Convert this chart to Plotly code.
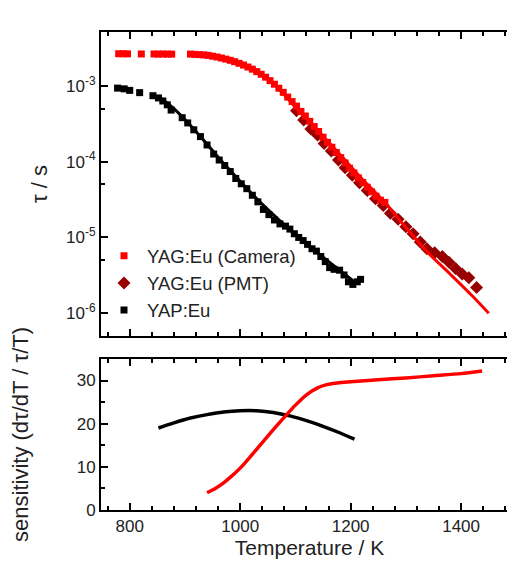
import plotly.graph_objects as go

# ---------------- data ----------------
# YAG:Eu (Camera) lifetime, s
cam_T = [780, 788, 796, 821, 844, 852, 860, 868, 876, 910, 918, 926, 934, 942, 950, 958,
         966, 974, 982, 990, 998, 1006, 1014, 1022, 1030, 1038, 1046, 1054, 1062, 1070,
         1078, 1086, 1094, 1102, 1110, 1118, 1126, 1134, 1142, 1150, 1158, 1166, 1174,
         1182, 1190, 1198, 1206, 1214, 1222, 1230, 1238, 1246, 1254, 1262]
cam_tau = [2.65e-3, 2.65e-3, 2.64e-3, 2.63e-3, 2.63e-3, 2.62e-3, 2.63e-3, 2.62e-3, 2.62e-3,
           2.62e-3, 2.60e-3, 2.58e-3, 2.56e-3, 2.52e-3, 2.46e-3, 2.40e-3, 2.33e-3, 2.25e-3,
           2.17e-3, 2.08e-3, 1.98e-3, 1.88e-3, 1.77e-3, 1.66e-3, 1.54e-3, 1.42e-3, 1.30e-3,
           1.17e-3, 1.05e-3, 9.3e-4, 8.2e-4, 7.1e-4, 6.2e-4, 5.4e-4, 4.6e-4, 4.0e-4, 3.4e-4,
           2.9e-4, 2.5e-4, 2.1e-4, 1.8e-4, 1.55e-4, 1.32e-4, 1.13e-4, 9.6e-5, 8.2e-5, 7.1e-5,
           6.1e-5, 5.3e-5, 4.6e-5, 4.0e-5, 3.5e-5, 3.1e-5, 2.9e-5]

# YAG:Eu (PMT) lifetime, s
pmt_T = [1102, 1115, 1128, 1140, 1152, 1165, 1178, 1190, 1203, 1216, 1230, 1245, 1259,
         1272, 1286, 1300, 1313, 1326, 1338, 1352, 1366, 1378, 1390, 1402, 1414, 1428]
pmt_tau = [4.68e-4, 3.55e-4, 2.69e-4, 2.24e-4, 1.74e-4, 1.38e-4, 1.05e-4, 8.3e-5, 6.6e-5,
           5.25e-5, 4.17e-5, 3.24e-5, 2.63e-5, 2.09e-5, 1.74e-5, 1.38e-5, 1.12e-5, 8.7e-6,
           7.1e-6, 6.3e-6, 5.6e-6, 4.7e-6, 3.9e-6, 3.3e-6, 2.95e-6, 2.19e-6]

# YAP:Eu lifetime, s
yap_T = [778, 790, 800, 818, 842, 852, 860, 868, 875, 895, 905, 916, 928, 940, 952, 962,
         972, 982, 992, 1002, 1012, 1022, 1032, 1042, 1052, 1062, 1072, 1082, 1090, 1098,
         1106, 1114, 1122, 1130, 1138, 1146, 1154, 1162, 1170, 1180, 1188, 1196, 1204,
         1212, 1218]
yap_tau = [9.33e-4, 9.12e-4, 8.71e-4, 8.13e-4, 7.41e-4, 6.92e-4, 6.31e-4, 5.62e-4, 4.79e-4,
           3.80e-4, 3.24e-4, 2.63e-4, 2.14e-4, 1.66e-4, 1.26e-4, 1.05e-4, 8.9e-5, 7.4e-5,
           6.0e-5, 5.1e-5, 4.4e-5, 3.6e-5, 2.95e-5, 2.34e-5, 2.0e-5, 1.70e-5, 1.51e-5,
           1.41e-5, 1.29e-5, 1.12e-5, 1.0e-5, 9.1e-6, 8.1e-6, 7.1e-6, 6.6e-6, 5.6e-6, 4.8e-6,
           4.0e-6, 3.8e-6, 3.7e-6, 3.2e-6, 2.6e-6, 2.4e-6, 2.6e-6, 2.8e-6]

# fitted curves
yag_fit_T = [940, 980, 1020, 1050, 1080, 1100, 1140, 1180, 1220, 1260, 1300, 1340, 1380, 1420, 1450]
yag_fit_tau = [2.5e-3, 2.3e-3, 1.74e-3, 1.26e-3, 7.6e-4, 5.2e-4, 2.6e-4, 1.26e-4, 6.0e-5,
               3.0e-5, 1.35e-5, 6.3e-6, 3.3e-6, 1.7e-6, 1.0e-6]
yap_fit_T = [852, 880, 910, 940, 970, 1000, 1030, 1060, 1090, 1120, 1150, 1180, 1210]
yap_fit_tau = [7.24e-4, 5.0e-4, 3.0e-4, 1.70e-4, 9.5e-5, 5.5e-5, 3.24e-5, 2.0e-5, 1.26e-5,
               8.3e-6, 5.5e-6, 3.7e-6, 2.5e-6]

# sensitivity curves
sens_yag_T = [940, 955, 970, 985, 1000, 1020, 1040, 1060, 1080, 1100, 1120, 1140, 1155,
              1168, 1200, 1250, 1300, 1350, 1400, 1438]
sens_yag = [4.0, 5.0, 6.3, 7.9, 9.7, 12.6, 15.6, 18.6, 21.5, 24.3, 26.7, 28.3, 29.0, 29.3,
            29.7, 30.2, 30.6, 31.1, 31.6, 32.2]
sens_yap_T = [852, 880, 910, 940, 970, 1000, 1030, 1060, 1090, 1120, 1150, 1180, 1207]
sens_yap = [19.0, 20.2, 21.3, 22.1, 22.7, 23.0, 23.0, 22.6, 21.8, 20.7, 19.4, 17.9, 16.4]

log_tickvals = [1e-6, 1e-5, 1e-4, 1e-3]
log_ticktext = ["10<sup>-6</sup>", "10<sup>-5</sup>", "10<sup>-4</sup>", "10<sup>-3</sup>"]
log_minorvals = [5e-7, 5e-6, 5e-5, 5e-4]

RED = "#ff0000"
DARKRED = "#960000"
FONT = "Arial, Liberation Sans, sans-serif"
TXT = "#222"

fig = go.Figure()

fig.add_trace(go.Scatter(x=pmt_T, y=pmt_tau, mode="markers", name="YAG:Eu (PMT)",
                         marker=dict(symbol="diamond", size=10, color=DARKRED),
                         xaxis="x", yaxis="y", legendrank=2))
fig.add_trace(go.Scatter(x=cam_T, y=cam_tau, mode="markers", name="YAG:Eu (Camera)",
                         marker=dict(symbol="square", size=7, color=RED),
                         xaxis="x", yaxis="y", legendrank=1))
fig.add_trace(go.Scatter(x=yag_fit_T, y=yag_fit_tau, mode="lines", showlegend=False,
                         line=dict(color=RED, width=3, shape="spline"), xaxis="x", yaxis="y"))
fig.add_trace(go.Scatter(x=yap_T, y=yap_tau, mode="markers", name="YAP:Eu",
                         marker=dict(symbol="square", size=7, color="black"),
                         xaxis="x", yaxis="y", legendrank=3))
fig.add_trace(go.Scatter(x=yap_fit_T, y=yap_fit_tau, mode="lines", showlegend=False,
                         line=dict(color="black", width=3, shape="spline"), xaxis="x", yaxis="y"))

fig.add_trace(go.Scatter(x=sens_yap_T, y=sens_yap, mode="lines", showlegend=False,
                         line=dict(color="black", width=3.5, shape="spline"), xaxis="x2", yaxis="y2"))
fig.add_trace(go.Scatter(x=sens_yag_T, y=sens_yag, mode="lines", showlegend=False,
                         line=dict(color=RED, width=3.5, shape="spline", smoothing=0.6),
                         xaxis="x2", yaxis="y2"))

axis_common = dict(showline=True, linecolor="black", linewidth=2, mirror="ticks",
                   ticks="inside", ticklen=7, tickwidth=2, tickcolor="black",
                   showgrid=False, zeroline=False,
                   tickfont=dict(family=FONT, size=17, color=TXT))

fig.update_layout(
    width=515, height=561,
    margin=dict(l=93, r=3, t=24, b=59),
    paper_bgcolor="white", plot_bgcolor="white",
    font=dict(family=FONT, color=TXT),
    xaxis=dict(domain=[0, 1], anchor="y", range=[748, 1503], dtick=200, tick0=800,
               showticklabels=False,
               minor=dict(dtick=40, tick0=760, ticks="inside", ticklen=4, tickwidth=2,
                          tickcolor="black"),
               **axis_common),
    yaxis=dict(domain=[0.364, 1], anchor="x", type="log", range=[-6.30, -2.29],
               tickvals=log_tickvals, ticktext=log_ticktext,
               minor=dict(tickmode="array", tickvals=log_minorvals, ticks="inside",
                          ticklen=4, tickwidth=2, tickcolor="black"),
               title=dict(text="τ / s", font=dict(family=FONT, size=22, color=TXT),
                          standoff=12),
               **axis_common),
    xaxis2=dict(domain=[0, 1], anchor="y2", range=[748, 1503], dtick=200, tick0=800,
                minor=dict(dtick=40, tick0=760, ticks="inside", ticklen=4, tickwidth=2,
                           tickcolor="black"),
                title=dict(text="Temperature / K", font=dict(family=FONT, size=21, color=TXT),
                           standoff=5),
                **axis_common),
    yaxis2=dict(domain=[0, 0.316], anchor="x2", range=[0, 35], dtick=10, tick0=0,
                minor=dict(dtick=5, ticks="inside", ticklen=4, tickwidth=2, tickcolor="black"),
                title=dict(text="sensitivity (dτ/dT / τ/T)",
                           font=dict(family=FONT, size=22, color=TXT), standoff=46),
                **axis_common),
    legend=dict(x=0.0, y=0.378, xanchor="left", yanchor="bottom", itemwidth=36,
                bgcolor="rgba(0,0,0,0)", font=dict(family=FONT, size=18.5, color=TXT),
                tracegroupgap=0, itemsizing="trace"),
    showlegend=True,
)

fig.write_html("out.html")
